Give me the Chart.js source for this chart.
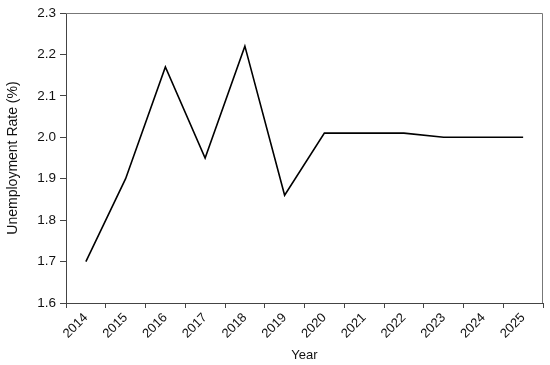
<!DOCTYPE html>
<html>
<head>
<meta charset="utf-8">
<script src="https://cdn.jsdelivr.net/npm/chart.js@4/dist/chart.umd.min.js"></script>
<style>
html,body{margin:0;padding:0;background:#fff;}
#wrap{width:550px;height:365px;position:relative;}
</style>
</head>
<body>
<div id="wrap"><canvas id="c" width="550" height="365"></canvas></div>
<script>
const years = ["2014","2015","2016","2017","2018","2019","2020","2021","2022","2023","2024","2025"];
const unemployment = [1.70, 1.90, 2.17, 1.95, 2.22, 1.86, 2.01, 2.01, 2.01, 2.00, 2.00, 2.00];
const yTicks = [1.6, 1.7, 1.8, 1.9, 2.0, 2.1, 2.2, 2.3];

const FONT = "'Liberation Sans', Arial, sans-serif";
const axisColor = '#444';

const boxPlugin = {
  id: 'box',
  afterDraw(chart) {
    const a = chart.chartArea, ctx = chart.ctx;
    ctx.save();
    ctx.strokeStyle = '#777';
    ctx.lineWidth = 1;
    ctx.beginPath();
    ctx.moveTo(a.left, a.top + 0.5);
    ctx.lineTo(a.right - 0.5, a.top + 0.5);
    ctx.lineTo(a.right - 0.5, a.bottom);
    ctx.stroke();
    ctx.restore();
  }
};

new Chart(document.getElementById('c'), {
  type: 'line',
  data: {
    labels: years,
    datasets: [{
      data: unemployment,
      borderColor: '#000',
      borderWidth: 1.6,
      pointRadius: 0,
      tension: 0,
      fill: false
    }]
  },
  options: {
    responsive: false,
    animation: false,
    devicePixelRatio: 1,
    layout: { padding: { left: 0, top: 13, right: 7, bottom: 0 } },
    plugins: { legend: { display: false }, tooltip: { enabled: false } },
    scales: {
      x: {
        offset: true,
        grid: { offset: true, drawOnChartArea: false, tickLength: 5, tickColor: axisColor, lineWidth: 1 },
        border: { color: axisColor, width: 1 },
        ticks: { minRotation: 45, maxRotation: 45, autoSkip: false, color: '#111', font: { family: FONT, size: 13 }, padding: 2 },
        title: { display: true, text: 'Year', color: '#111', font: { family: FONT, size: 13 }, padding: { top: 2, bottom: 2 } },
        afterFit(s) { s.height = 62; }
      },
      y: {
        min: 1.6, max: 2.3,
        afterBuildTicks(s) { s.ticks = yTicks.map(v => ({ value: v })); },
        grid: { drawOnChartArea: false, tickLength: 6, tickColor: axisColor, lineWidth: 1 },
        border: { color: axisColor, width: 1 },
        ticks: { color: '#111', font: { family: FONT, size: 13.5 }, padding: 4, callback: v => Number(v).toFixed(1) },
        title: { display: true, text: 'Unemployment Rate (%)', color: '#111', font: { family: FONT, size: 14 }, padding: { top: 5, bottom: 4 } },
        afterFit(s) { s.width = 66; }
      }
    }
  },
  plugins: [boxPlugin]
});
</script>
</body>
</html>
